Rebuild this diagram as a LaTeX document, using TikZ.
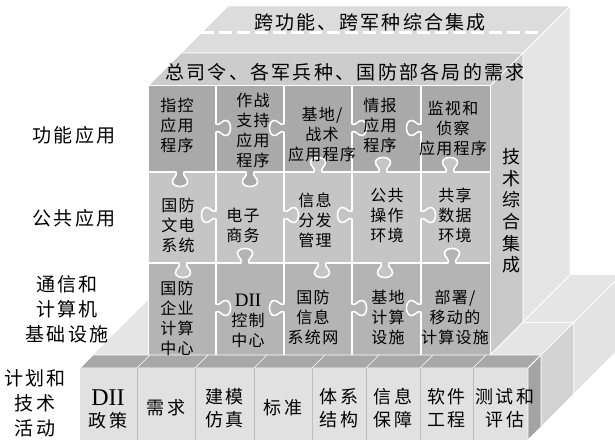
\documentclass[tikz,border=0pt]{standalone}
\usepackage{fontspec}
\setmainfont{Liberation Serif}
\newfontfamily\pzfont[LetterSpace=8]{Noto Sans CJK SC}
\newfontfamily\bgfont[LetterSpace=12]{Noto Sans CJK SC}
\definecolor{slabtop}{HTML}{E5E5E5}
\definecolor{slabsideA}{HTML}{D3D3D3}
\definecolor{slabsideB}{HTML}{E3E3E3}
\definecolor{btop}{HTML}{DCDCDC}
\definecolor{atop}{HTML}{CCCCCC}
\definecolor{bside}{HTML}{E4E4E4}
\definecolor{aside}{HTML}{C9C9C9}
\definecolor{rowa}{HTML}{A9A9A9}
\definecolor{rowb}{HTML}{C5C5C5}
\definecolor{rowc}{HTML}{B4B4B4}
\definecolor{rtop}{HTML}{A8A8A8}
\definecolor{rfront}{HTML}{E1E1E1}
\definecolor{rside}{HTML}{A3A3A3}
\definecolor{sepline}{HTML}{BDBDBD}
\newcommand\hknob[3]{-- ({#1-4},#2) .. controls ({#1-2},{#2+(#3)*4}) and ({#1-8},{#2+(#3)*6}) .. ({#1-7.5},{#2+(#3)*10}) .. controls ({#1-7},{#2+(#3)*16}) and ({#1+7},{#2+(#3)*16}) .. ({#1+7.5},{#2+(#3)*10}) .. controls ({#1+8},{#2+(#3)*6}) and ({#1+2},{#2+(#3)*4}) .. ({#1+4},#2)}
\newcommand\vknob[3]{-- (#1,{#2-4}) .. controls ({#1+(#3)*4},{#2-2}) and ({#1+(#3)*6},{#2-8}) .. ({#1+(#3)*10},{#2-7.5}) .. controls ({#1+(#3)*16},{#2-7}) and ({#1+(#3)*16},{#2+7}) .. ({#1+(#3)*10},{#2+7.5}) .. controls ({#1+(#3)*6},{#2+8}) and ({#1+(#3)*4},{#2+2}) .. (#1,{#2+4})}
\begin{document}
\begin{tikzpicture}[x=1pt,y=-1pt,
  edge/.style={draw=white,line width=0.8pt},
  pz/.style={draw=white,line width=1.6pt,line join=round},
  pt/.style={font=\pzfont\fontsize{16}{20}\selectfont,align=center,inner sep=0pt},
  tt/.style={font=\bgfont\fontsize{19}{22}\selectfont,align=center,inner sep=0pt},
  lab/.style={font=\bgfont\fontsize{19}{25}\selectfont,align=center,inner sep=0pt},
  bt/.style={font=\bgfont\fontsize{18}{23}\selectfont,align=center,inner sep=0pt},
  latin/.style={font=\rmfamily\fontsize{19}{20}\selectfont,inner sep=0pt}]
\useasboundingbox (0,0) rectangle (615,443);
\clip (0,0) rectangle (615,443);
% base slab
\fill[slabtop] (93,355) -- (541,355) -- (621,275) -- (173,275) -- cycle;
\fill[slabsideA,edge] (541,355) -- (574,322) -- (574,394) -- (541,427) -- cycle;
\fill[slabsideB,edge] (574,322) -- (621,275) -- (621,347) -- (574,394) -- cycle;
\draw[edge] (523,322) -- (574,322);
% cube
\fill[bside,edge] (523,53) -- (570,6) -- (570,275) -- (523,322) -- cycle;
\fill[aside,edge] (490,86) -- (523,53) -- (523,322) -- (490,355) -- cycle;
\fill[btop,edge] (181,53) -- (523,53) -- (570,6) -- (228,6) -- cycle;
\fill[atop,edge] (148,86) -- (490,86) -- (523,53) -- (181,53) -- cycle;
\draw[white,line width=3pt,dash pattern=on 13pt off 5pt] (201,33) -- (543,33);
% puzzle
\fill[rowa] (148,86) rectangle (490,355);
\fill[rowb] (148,172) \hknob{180}{172}{1} \hknob{250}{172}{1} \hknob{318}{172}{-1} \hknob{383}{172}{-1} \hknob{450}{172}{-1} -- (490,172) -- (490,355) -- (148,355) -- cycle;
\fill[rowc] (148,263) \hknob{183}{263}{1} \hknob{245}{263}{-1} \hknob{322}{263}{1} \hknob{385}{263}{1} \hknob{452}{263}{-1} -- (490,263) -- (490,355) -- (148,355) -- cycle;
\draw[pz] (148,172) \hknob{180}{172}{1} \hknob{250}{172}{1} \hknob{318}{172}{-1} \hknob{383}{172}{-1} \hknob{450}{172}{-1} -- (490,172);
\draw[pz] (148,263) \hknob{183}{263}{1} \hknob{245}{263}{-1} \hknob{322}{263}{1} \hknob{385}{263}{1} \hknob{452}{263}{-1} -- (490,263);
\draw[pz] (216,86) \vknob{216}{128}{1} -- (216,172);
\draw[pz] (284,86) \vknob{284}{128}{-1} -- (284,172);
\draw[pz] (352,86) \vknob{352}{128}{1} -- (352,172);
\draw[pz] (421,86) \vknob{421}{128}{-1} -- (421,172);
\draw[pz] (216,172) \vknob{216}{215}{-1} -- (216,263);
\draw[pz] (284,172) \vknob{284}{215}{1} -- (284,263);
\draw[pz] (352,172) \vknob{352}{215}{-1} -- (352,263);
\draw[pz] (421,172) \vknob{421}{215}{1} -- (421,263);
\draw[pz] (216,263) \vknob{216}{308}{1} -- (216,355);
\draw[pz] (284,263) \vknob{284}{308}{-1} -- (284,355);
\draw[pz] (352,263) \vknob{352}{308}{1} -- (352,355);
\draw[pz] (421,263) \vknob{421}{308}{-1} -- (421,355);
\draw[white,line width=1pt] (148,86) rectangle (490,355);
% blocks row
\fill[rtop,edge] (80,368) -- (528,368) -- (541,355) -- (93,355) -- cycle;
\fill[rfront] (80,368) rectangle (528,440);
\fill[rside,edge] (528,368) -- (541,355) -- (541,427) -- (528,440) -- cycle;
\foreach \bx in {137,195,254,312,366,420,473}{
  \draw[sepline,line width=0.7pt] (\bx,368) -- (\bx,440);
  \draw[white,line width=0.6pt] (\bx,368) -- ({\bx+13},355);
}
% texts
\node[tt] (t1) at (370,22) {跨功能、跨军种综合集成};
\node[tt] (t2) at (345,72) {总司令、各军兵种、国防部各局的需求};
\node[lab] (l1) at (74,135) {功能应用};
\node[lab] (l2) at (74,218) {公共应用};
\node[lab] (l3) at (67,309) {通信和\\计算机\\基础设施};
\node[lab] (l4) at (35,403) {计划和\\技术\\活动};
\node[pt] (p11) at (177,125) {指控\\应用\\程序};
\node[pt] (p12) at (253,130) {作战\\支持\\应用\\程序};
\node[pt] (p13) at (322,134) {基地/\\战术\\应用程序};
\node[pt] (p14) at (380,125) {情报\\应用\\程序};
\node[pt] (p15) at (453,128) {监视和\\侦察\\应用程序};
\node[pt] (p21) at (178,225) {国防\\文电\\系统};
\node[pt] (p22) at (243,225) {电子\\商务};
\node[pt] (p23) at (315,220) {信息\\分发\\管理};
\node[pt] (p24) at (387,216) {公共\\操作\\环境};
\node[pt] (p25) at (455,215) {共享\\数据\\环境};
\node[pt] (p31) at (177,318) {国防\\企业\\计算\\中心};
\node[latin] (p32a) at (248,300) {DII};
\node[pt] (p32) at (248,330) {控制\\中心};
\node[pt] (p33) at (313,317) {国防\\信息\\系统网};
\node[pt] (p34) at (388,317) {基地\\计算\\设施};
\node[pt] (p35) at (455,317) {部署/\\移动的\\计算设施};
\node[font=\bgfont\fontsize{18}{21.6}\selectfont,align=center,inner sep=0pt] (tech) at (511,211) {技\\术\\综\\合\\集\\成};
\node[latin,font=\rmfamily\fontsize{24}{24}\selectfont] (b1a) at (108,398) {DII};
\node[bt] (b1) at (108,421) {政策};
\node[bt] (b2) at (166,408) {需求};
\node[bt] (b3) at (224.5,408.5) {建模\\仿真};
\node[bt] (b4) at (283,408) {标准};
\node[bt] (b5) at (339,408.5) {体系\\结构};
\node[bt] (b6) at (393,408.5) {信息\\保障};
\node[bt] (b7) at (446.5,408.5) {软件\\工程};
\node[bt] (b8) at (505,408.5) {测试和\\评估};
\end{tikzpicture}
\end{document}
